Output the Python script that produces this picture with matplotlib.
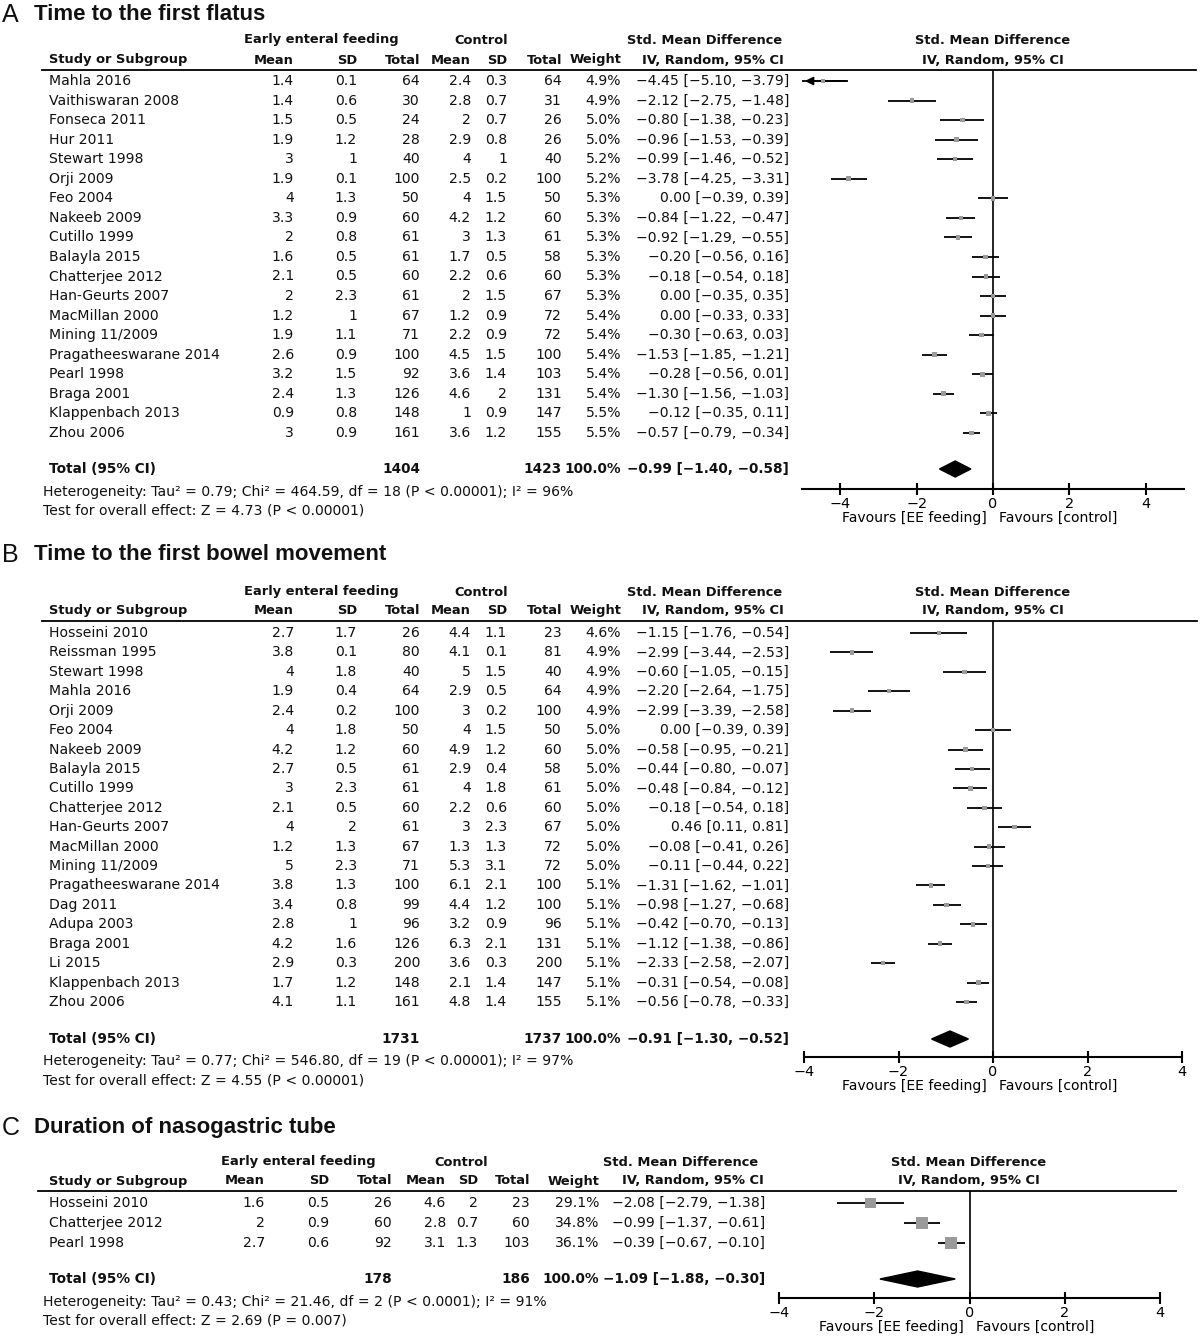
import numpy as np
import matplotlib
matplotlib.use("Agg")
import matplotlib.pyplot as plt
from matplotlib.lines import Line2D

W, H = 1200, 1338
FS = 10.1      # body text
FSB = 9.4      # bold header text

# ---------------- A: time to the first flatus ----------------
a_study = ["Mahla 2016", "Vaithiswaran 2008", "Fonseca 2011", "Hur 2011", "Stewart 1998",
           "Orji 2009", "Feo 2004", "Nakeeb 2009", "Cutillo 1999", "Balayla 2015",
           "Chatterjee 2012", "Han-Geurts 2007", "MacMillan 2000", "Mining 11/2009",
           "Pragatheeswarane 2014", "Pearl 1998", "Braga 2001", "Klappenbach 2013", "Zhou 2006"]
a_ee_mean = [1.4, 1.4, 1.5, 1.9, 3, 1.9, 4, 3.3, 2, 1.6, 2.1, 2, 1.2, 1.9, 2.6, 3.2, 2.4, 0.9, 3]
a_ee_sd = [0.1, 0.6, 0.5, 1.2, 1, 0.1, 1.3, 0.9, 0.8, 0.5, 0.5, 2.3, 1, 1.1, 0.9, 1.5, 1.3, 0.8, 0.9]
a_ee_n = [64, 30, 24, 28, 40, 100, 50, 60, 61, 61, 60, 61, 67, 71, 100, 92, 126, 148, 161]
a_ct_mean = [2.4, 2.8, 2, 2.9, 4, 2.5, 4, 4.2, 3, 1.7, 2.2, 2, 1.2, 2.2, 4.5, 3.6, 4.6, 1, 3.6]
a_ct_sd = [0.3, 0.7, 0.7, 0.8, 1, 0.2, 1.5, 1.2, 1.3, 0.5, 0.6, 1.5, 0.9, 0.9, 1.5, 1.4, 2, 0.9, 1.2]
a_ct_n = [64, 31, 26, 26, 40, 100, 50, 60, 61, 58, 60, 67, 72, 72, 100, 103, 131, 147, 155]
a_weight = [4.9, 4.9, 5.0, 5.0, 5.2, 5.2, 5.3, 5.3, 5.3, 5.3, 5.3, 5.3, 5.4, 5.4, 5.4, 5.4, 5.4, 5.5, 5.5]
a_smd = [-4.45, -2.12, -0.80, -0.96, -0.99, -3.78, 0.00, -0.84, -0.92, -0.20, -0.18, 0.00, 0.00,
         -0.30, -1.53, -0.28, -1.30, -0.12, -0.57]
a_lo = [-5.10, -2.75, -1.38, -1.53, -1.46, -4.25, -0.39, -1.22, -1.29, -0.56, -0.54, -0.35, -0.33,
        -0.63, -1.85, -0.56, -1.56, -0.35, -0.79]
a_hi = [-3.79, -1.48, -0.23, -0.39, -0.52, -3.31, 0.39, -0.47, -0.55, 0.16, 0.18, 0.35, 0.33,
        0.03, -1.21, 0.01, -1.03, 0.11, -0.34]
a_total = [1404, 1423, -0.99, -1.40, -0.58]
a_het = "Heterogeneity: Tau² = 0.79; Chi² = 464.59, df = 18 (P < 0.00001); I² = 96%"
a_test = "Test for overall effect: Z = 4.73 (P < 0.00001)"

# ---------------- B: time to the first bowel movement ----------------
b_study = ["Hosseini 2010", "Reissman 1995", "Stewart 1998", "Mahla 2016", "Orji 2009", "Feo 2004",
           "Nakeeb 2009", "Balayla 2015", "Cutillo 1999", "Chatterjee 2012", "Han-Geurts 2007",
           "MacMillan 2000", "Mining 11/2009", "Pragatheeswarane 2014", "Dag 2011", "Adupa 2003",
           "Braga 2001", "Li 2015", "Klappenbach 2013", "Zhou 2006"]
b_ee_mean = [2.7, 3.8, 4, 1.9, 2.4, 4, 4.2, 2.7, 3, 2.1, 4, 1.2, 5, 3.8, 3.4, 2.8, 4.2, 2.9, 1.7, 4.1]
b_ee_sd = [1.7, 0.1, 1.8, 0.4, 0.2, 1.8, 1.2, 0.5, 2.3, 0.5, 2, 1.3, 2.3, 1.3, 0.8, 1, 1.6, 0.3, 1.2, 1.1]
b_ee_n = [26, 80, 40, 64, 100, 50, 60, 61, 61, 60, 61, 67, 71, 100, 99, 96, 126, 200, 148, 161]
b_ct_mean = [4.4, 4.1, 5, 2.9, 3, 4, 4.9, 2.9, 4, 2.2, 3, 1.3, 5.3, 6.1, 4.4, 3.2, 6.3, 3.6, 2.1, 4.8]
b_ct_sd = [1.1, 0.1, 1.5, 0.5, 0.2, 1.5, 1.2, 0.4, 1.8, 0.6, 2.3, 1.3, 3.1, 2.1, 1.2, 0.9, 2.1, 0.3, 1.4, 1.4]
b_ct_n = [23, 81, 40, 64, 100, 50, 60, 58, 61, 60, 67, 72, 72, 100, 100, 96, 131, 200, 147, 155]
b_weight = [4.6, 4.9, 4.9, 4.9, 4.9, 5.0, 5.0, 5.0, 5.0, 5.0, 5.0, 5.0, 5.0, 5.1, 5.1, 5.1, 5.1, 5.1, 5.1, 5.1]
b_smd = [-1.15, -2.99, -0.60, -2.20, -2.99, 0.00, -0.58, -0.44, -0.48, -0.18, 0.46, -0.08, -0.11,
         -1.31, -0.98, -0.42, -1.12, -2.33, -0.31, -0.56]
b_lo = [-1.76, -3.44, -1.05, -2.64, -3.39, -0.39, -0.95, -0.80, -0.84, -0.54, 0.11, -0.41, -0.44,
        -1.62, -1.27, -0.70, -1.38, -2.58, -0.54, -0.78]
b_hi = [-0.54, -2.53, -0.15, -1.75, -2.58, 0.39, -0.21, -0.07, -0.12, 0.18, 0.81, 0.26, 0.22,
        -1.01, -0.68, -0.13, -0.86, -2.07, -0.08, -0.33]
b_total = [1731, 1737, -0.91, -1.30, -0.52]
b_het = "Heterogeneity: Tau² = 0.77; Chi² = 546.80, df = 19 (P < 0.00001); I² = 97%"
b_test = "Test for overall effect: Z = 4.55 (P < 0.00001)"

# ---------------- C: duration of nasogastric tube ----------------
c_study = ["Hosseini 2010", "Chatterjee 2012", "Pearl 1998"]
c_ee_mean = [1.6, 2, 2.7]
c_ee_sd = [0.5, 0.9, 0.6]
c_ee_n = [26, 60, 92]
c_ct_mean = [4.6, 2.8, 3.1]
c_ct_sd = [2, 0.7, 1.3]
c_ct_n = [23, 60, 103]
c_weight = [29.1, 34.8, 36.1]
c_smd = [-2.08, -0.99, -0.39]
c_lo = [-2.79, -1.37, -0.67]
c_hi = [-1.38, -0.61, -0.10]
c_total = [178, 186, -1.09, -1.88, -0.30]
c_het = "Heterogeneity: Tau² = 0.43; Chi² = 21.46, df = 2 (P < 0.0001); I² = 91%"
c_test = "Test for overall effect: Z = 2.69 (P = 0.007)"

fig = plt.figure(figsize=(W / 100, H / 100), dpi=100)
plt.rcParams['font.family'] = 'DejaVu Sans'


def txt(x, y, s, ha='left', bold=False, size=None, family='DejaVu Sans'):
    if size is None:
        size = FSB if bold else FS
    fig.text(x / W, 1 - y / H, s, ha=ha, va='center', fontsize=size,
             fontweight='bold' if bold else 'normal', family=family, color='#111111')


def hline(x0, x1, y, lw=1.3):
    fig.add_artist(Line2D([x0 / W, x1 / W], [1 - y / H] * 2, color='black', lw=lw))


def num(v):
    return ('%g' % v).replace('-', '\u2212')


def ci(e, lo, hi):
    return ('%.2f [%.2f, %.2f]' % (e, lo, hi)).replace('-', '\u2212')


def panel(letter, title, study, ee_mean, ee_sd, ee_n, ct_mean, ct_sd, ct_n, weight, smd, lo, hi,
          total, het, test, lay):
    y_title = lay['y_title']
    txt(2, y_title, letter, size=18, family='Liberation Sans')
    txt(34, y_title, title, bold=True, size=16, family='Liberation Sans')

    y1, y2, yl = lay['y_h1'], lay['y_h2'], lay['y_line']
    c = lay['cols']
    txt(lay['ee_hdr'], y1, 'Early enteral feeding', ha='center', bold=True)
    txt(lay['ct_hdr'], y1, 'Control', ha='center', bold=True)
    txt(lay['smd_hdr'][0], y1, 'Std. Mean Difference', ha='center', bold=True)
    txt(lay['smd_hdr'][1], y2, 'IV, Random, 95% CI', ha='center', bold=True)
    txt(lay['zero_px'], y1, 'Std. Mean Difference', ha='center', bold=True)
    txt(lay['zero_px'], y2, 'IV, Random, 95% CI', ha='center', bold=True)
    txt(c[0], y2, 'Study or Subgroup', bold=True)
    for x, s in zip(c[1:8], ['Mean', 'SD', 'Total', 'Mean', 'SD', 'Total', 'Weight']):
        txt(x, y2, s, ha='right', bold=True)
    hline(lay['line_x'][0], lay['line_x'][1], yl)

    ys = lay['y_row0'] + lay['step'] * np.arange(len(study))
    for i, y in enumerate(ys):
        txt(c[0], y, study[i])
        vals = [num(ee_mean[i]), num(ee_sd[i]), str(ee_n[i]), num(ct_mean[i]), num(ct_sd[i]),
                str(ct_n[i]), '%.1f%%' % weight[i], ci(smd[i], lo[i], hi[i])]
        for x, s in zip(c[1:], vals):
            txt(x, y, s, ha='right')

    yt = lay['y_total']
    txt(c[0], yt, 'Total (95% CI)', bold=True, size=9.8)
    txt(c[3], yt, str(total[0]), ha='right', bold=True, size=9.8)
    txt(c[6], yt, str(total[1]), ha='right', bold=True, size=9.8)
    txt(c[7], yt, '100.0%', ha='right', bold=True, size=9.8)
    txt(c[8], yt, ci(total[2], total[3], total[4]), ha='right', bold=True, size=9.8)
    txt(c[0] - 6, lay['y_het'], het)
    txt(c[0] - 6, lay['y_het'] + 19, test)

    # forest plot
    fx0, fx1 = lay['forest_x']
    yb = lay['y_axis']
    ax = fig.add_axes([fx0 / W, 1 - yb / H, (fx1 - fx0) / W, (yb - yl) / H])
    xmin, xmax = lay['xlim']
    ax.set_xlim(xmin, xmax)
    ax.set_ylim(yb, yl)
    ax.patch.set_alpha(0)
    for s in ['top', 'left', 'right']:
        ax.spines[s].set_visible(False)
    ax.spines['bottom'].set_linewidth(1.5)
    ax.set_yticks([])
    ax.set_xticks([-4, -2, 0, 2, 4])
    ax.tick_params(axis='x', direction='inout', length=9, width=1.5, pad=1, labelsize=FS + 0.3)
    ax.axvline(0, color='black', lw=1.2, zorder=1)

    lo_c = np.maximum(lo, xmin)
    ax.hlines(ys, lo_c, hi, color='black', lw=1.3, zorder=2)
    for i, y in enumerate(ys):
        if lo[i] < xmin:
            ax.annotate('', xy=(xmin, y), xytext=(hi[i], y),
                        arrowprops=dict(arrowstyle='-|>', color='black', lw=1.3, mutation_scale=12))
    side = 2.0 * np.sqrt(np.array(weight)) * 0.72
    ax.scatter(smd, ys, s=side ** 2, marker='s', color='#9a9a9a', zorder=3, linewidths=0)

    dh = 8
    ax.fill([total[3], total[2], total[4], total[2]], [yt, yt - dh, yt, yt + dh],
            color='black', zorder=3)

    ax.annotate('Favours [EE feeding]', xy=(0, 0), xycoords=('data', 'axes fraction'),
                xytext=(-6, -29), textcoords='offset pixels', ha='right', va='center', fontsize=FS)
    ax.annotate('Favours [control]', xy=(0, 0), xycoords=('data', 'axes fraction'),
                xytext=(6, -29), textcoords='offset pixels', ha='left', va='center', fontsize=FS)


cols_ab = [49, 294, 357, 420, 471, 507, 562, 621, 789]
lay_a = dict(y_title=15, y_h1=40, y_h2=60, y_line=70, y_row0=81, step=19.55, y_total=469,
             y_het=492, y_axis=489, cols=cols_ab, ee_hdr=321, ct_hdr=481, smd_hdr=(705, 713),
             zero_px=993, line_x=(42, 1196), forest_x=(802, 1184), xlim=(-5, 5))
lay_b = dict(y_title=555, y_h1=592, y_h2=611, y_line=621, y_row0=633, step=19.42, y_total=1039,
             y_het=1061, y_axis=1057, cols=cols_ab, ee_hdr=321, ct_hdr=481, smd_hdr=(705, 713),
             zero_px=993, line_x=(42, 1197), forest_x=(804, 1182), xlim=(-4, 4))
lay_c = dict(y_title=1128, y_h1=1162, y_h2=1181, y_line=1191, y_row0=1203, step=20, y_total=1279,
             y_het=1302, y_axis=1298, cols=[49, 265, 329, 392, 446, 478, 530, 599, 765],
             ee_hdr=298, ct_hdr=461, smd_hdr=(681, 693), zero_px=969, line_x=(38, 1176),
             forest_x=(779, 1160), xlim=(-4, 4))

panel('A', 'Time to the first flatus', a_study, a_ee_mean, a_ee_sd, a_ee_n, a_ct_mean, a_ct_sd,
      a_ct_n, a_weight, a_smd, a_lo, a_hi, a_total, a_het, a_test, lay_a)
panel('B', 'Time to the first bowel movement', b_study, b_ee_mean, b_ee_sd, b_ee_n, b_ct_mean,
      b_ct_sd, b_ct_n, b_weight, b_smd, b_lo, b_hi, b_total, b_het, b_test, lay_b)
panel('C', 'Duration of nasogastric tube', c_study, c_ee_mean, c_ee_sd, c_ee_n, c_ct_mean, c_ct_sd,
      c_ct_n, c_weight, c_smd, c_lo, c_hi, c_total, c_het, c_test, lay_c)

fig.savefig('out.png', dpi=100)
